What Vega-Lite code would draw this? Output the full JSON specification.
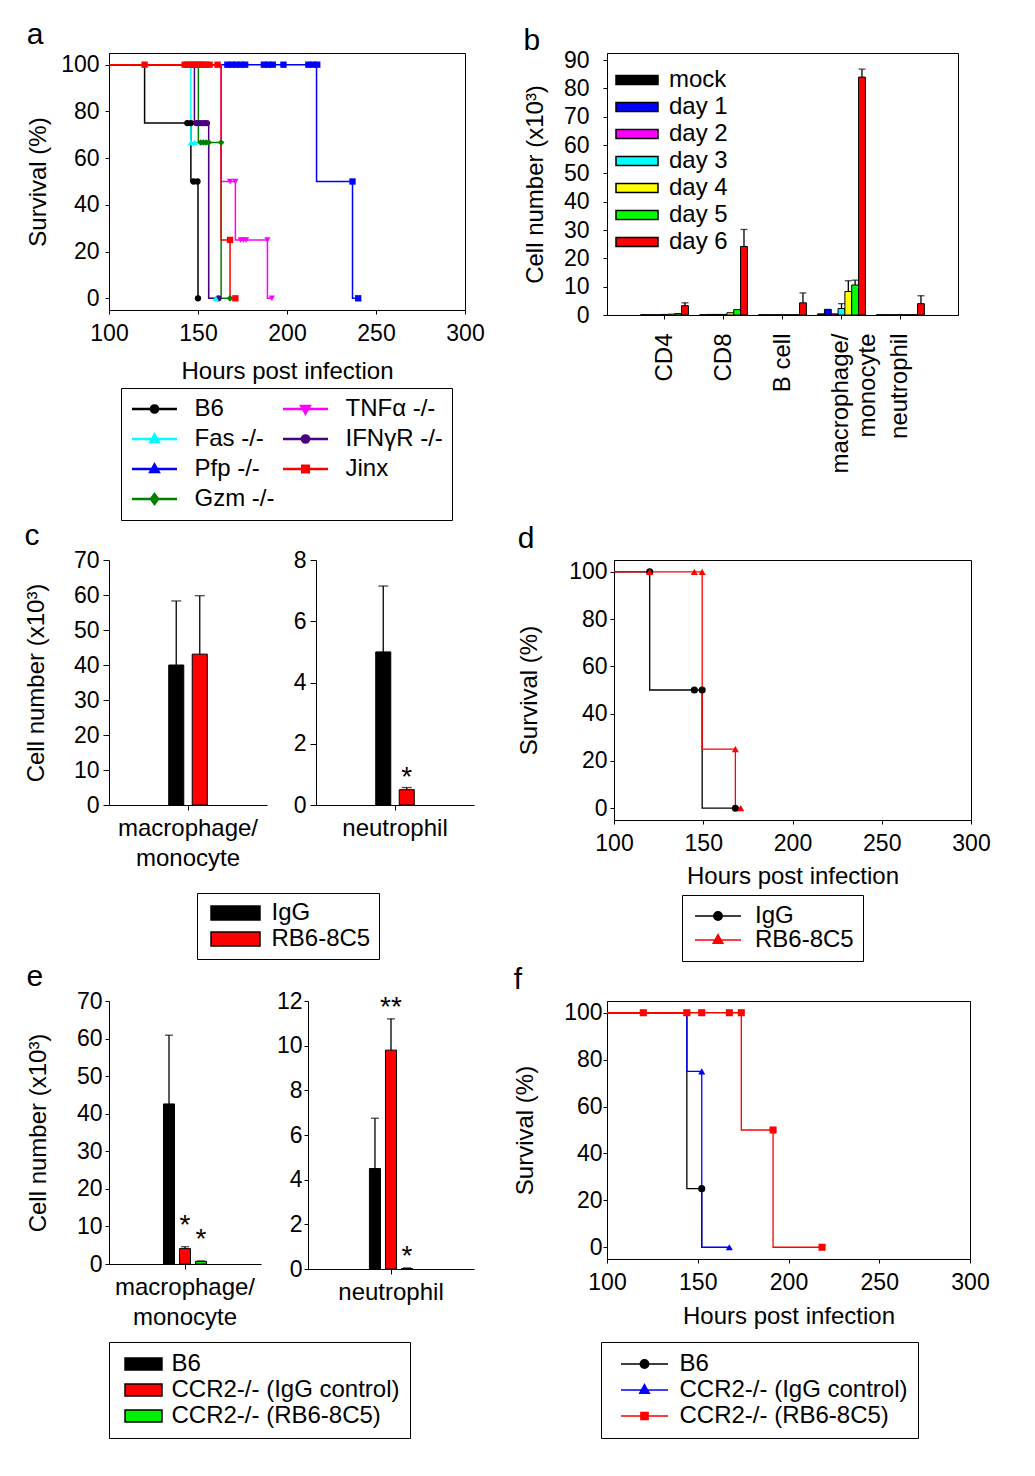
{
"$schema": "https://vega.github.io/schema/vega-lite/v6.json",
"padding": {"left": 24, "top": 19, "right": 5, "bottom": 5},
"background": "white",
"config": {
 "font": "Liberation Sans",
 "view": {"stroke": "black", "strokeWidth": 1},
 "axis": {"labelFont": "Liberation Sans", "titleFont": "Liberation Sans", "labelFontSize": 23, "titleFontSize": 24, "titleFontWeight": "normal", "labelColor": "black", "titleColor": "black", "domainColor": "black", "tickColor": "black", "grid": false, "labelOverlap": false, "labelFlush": false},
 "legend": {"labelFont": "Liberation Sans", "labelFontSize": 24, "labelColor": "black", "labelLimit": 400},
 "title": {"font": "Liberation Sans", "fontSize": 30, "fontWeight": "normal", "anchor": "start", "color": "black", "offset": 2}
},
"datasets": {
 "a_lines": [
  {"strain": "B6", "hours": 100, "surv": 100}, {"strain": "B6", "hours": 120, "surv": 75}, {"strain": "B6", "hours": 146, "surv": 50}, {"strain": "B6", "hours": 150, "surv": 0},
  {"strain": "Fas -/-", "hours": 100, "surv": 100}, {"strain": "Fas -/-", "hours": 146, "surv": 66.7}, {"strain": "Fas -/-", "hours": 156, "surv": 0}, {"strain": "Fas -/-", "hours": 160, "surv": 0},
  {"strain": "Pfp -/-", "hours": 100, "surv": 100}, {"strain": "Pfp -/-", "hours": 216.6, "surv": 50}, {"strain": "Pfp -/-", "hours": 236.8, "surv": 0}, {"strain": "Pfp -/-", "hours": 240, "surv": 0},
  {"strain": "Gzm -/-", "hours": 100, "surv": 100}, {"strain": "Gzm -/-", "hours": 150.2, "surv": 66.7}, {"strain": "Gzm -/-", "hours": 163, "surv": 0}, {"strain": "Gzm -/-", "hours": 168, "surv": 0},
  {"strain": "TNFα -/-", "hours": 100, "surv": 100}, {"strain": "TNFα -/-", "hours": 163, "surv": 50}, {"strain": "TNFα -/-", "hours": 171, "surv": 25}, {"strain": "TNFα -/-", "hours": 189, "surv": 0}, {"strain": "TNFα -/-", "hours": 191.5, "surv": 0},
  {"strain": "IFNγR -/-", "hours": 100, "surv": 100}, {"strain": "IFNγR -/-", "hours": 148, "surv": 75}, {"strain": "IFNγR -/-", "hours": 156, "surv": 0}, {"strain": "IFNγR -/-", "hours": 161.5, "surv": 0},
  {"strain": "Jinx", "hours": 100, "surv": 100}, {"strain": "Jinx", "hours": 163, "surv": 25}, {"strain": "Jinx", "hours": 168, "surv": 0}, {"strain": "Jinx", "hours": 171, "surv": 0}
 ],
 "a_pts": [
  {"strain": "B6", "hours": 144, "surv": 75}, {"strain": "B6", "hours": 146, "surv": 75}, {"strain": "B6", "hours": 147.5, "surv": 50}, {"strain": "B6", "hours": 149.7, "surv": 50}, {"strain": "B6", "hours": 150, "surv": 0},
  {"strain": "Fas -/-", "hours": 146, "surv": 66.7}, {"strain": "Fas -/-", "hours": 148, "surv": 66.7}, {"strain": "Fas -/-", "hours": 160, "surv": 0},
  {"strain": "Pfp -/-", "hours": 166.5, "surv": 100}, {"strain": "Pfp -/-", "hours": 169, "surv": 100}, {"strain": "Pfp -/-", "hours": 171.5, "surv": 100}, {"strain": "Pfp -/-", "hours": 174, "surv": 100}, {"strain": "Pfp -/-", "hours": 176.5, "surv": 100}, {"strain": "Pfp -/-", "hours": 187, "surv": 100}, {"strain": "Pfp -/-", "hours": 189.5, "surv": 100}, {"strain": "Pfp -/-", "hours": 192, "surv": 100}, {"strain": "Pfp -/-", "hours": 198, "surv": 100}, {"strain": "Pfp -/-", "hours": 212, "surv": 100}, {"strain": "Pfp -/-", "hours": 214.5, "surv": 100}, {"strain": "Pfp -/-", "hours": 217, "surv": 100}, {"strain": "Pfp -/-", "hours": 236.8, "surv": 50}, {"strain": "Pfp -/-", "hours": 240, "surv": 0},
  {"strain": "Gzm -/-", "hours": 151.5, "surv": 66.7}, {"strain": "Gzm -/-", "hours": 153, "surv": 66.7}, {"strain": "Gzm -/-", "hours": 154.5, "surv": 66.7}, {"strain": "Gzm -/-", "hours": 156, "surv": 66.7}, {"strain": "Gzm -/-", "hours": 163, "surv": 66.7}, {"strain": "Gzm -/-", "hours": 168, "surv": 0},
  {"strain": "TNFα -/-", "hours": 168, "surv": 50}, {"strain": "TNFα -/-", "hours": 171, "surv": 50}, {"strain": "TNFα -/-", "hours": 174, "surv": 25}, {"strain": "TNFα -/-", "hours": 175.5, "surv": 25}, {"strain": "TNFα -/-", "hours": 177, "surv": 25}, {"strain": "TNFα -/-", "hours": 189, "surv": 25}, {"strain": "TNFα -/-", "hours": 191.5, "surv": 0},
  {"strain": "IFNγR -/-", "hours": 149, "surv": 75}, {"strain": "IFNγR -/-", "hours": 150.5, "surv": 75}, {"strain": "IFNγR -/-", "hours": 152, "surv": 75}, {"strain": "IFNγR -/-", "hours": 153.5, "surv": 75}, {"strain": "IFNγR -/-", "hours": 155, "surv": 75}, {"strain": "IFNγR -/-", "hours": 161.5, "surv": 0},
  {"strain": "Jinx", "hours": 120, "surv": 100}, {"strain": "Jinx", "hours": 142.5, "surv": 100}, {"strain": "Jinx", "hours": 144, "surv": 100}, {"strain": "Jinx", "hours": 145.5, "surv": 100}, {"strain": "Jinx", "hours": 147, "surv": 100}, {"strain": "Jinx", "hours": 148.5, "surv": 100}, {"strain": "Jinx", "hours": 150, "surv": 100}, {"strain": "Jinx", "hours": 151.5, "surv": 100}, {"strain": "Jinx", "hours": 153, "surv": 100}, {"strain": "Jinx", "hours": 154.5, "surv": 100}, {"strain": "Jinx", "hours": 156.5, "surv": 100}, {"strain": "Jinx", "hours": 161, "surv": 100}, {"strain": "Jinx", "hours": 168, "surv": 25}, {"strain": "Jinx", "hours": 171, "surv": 0}
 ],
 "b": [
  {"cell": "CD4", "day": "mock", "value": 0.1}, {"cell": "CD4", "day": "day 1", "value": 0.1}, {"cell": "CD4", "day": "day 2", "value": 0.1}, {"cell": "CD4", "day": "day 3", "value": 0.2}, {"cell": "CD4", "day": "day 4", "value": 0.3}, {"cell": "CD4", "day": "day 5", "value": 0.5}, {"cell": "CD4", "day": "day 6", "value": 3.3, "upper": 4.3},
  {"cell": "CD8", "day": "mock", "value": 0.1}, {"cell": "CD8", "day": "day 1", "value": 0.2}, {"cell": "CD8", "day": "day 2", "value": 0.2}, {"cell": "CD8", "day": "day 3", "value": 0.2}, {"cell": "CD8", "day": "day 4", "value": 0.8}, {"cell": "CD8", "day": "day 5", "value": 1.9}, {"cell": "CD8", "day": "day 6", "value": 24.2, "upper": 30.2},
  {"cell": "B cell", "day": "mock", "value": 0.1}, {"cell": "B cell", "day": "day 1", "value": 0.1}, {"cell": "B cell", "day": "day 2", "value": 0.1}, {"cell": "B cell", "day": "day 3", "value": 0.1}, {"cell": "B cell", "day": "day 4", "value": 0.1}, {"cell": "B cell", "day": "day 5", "value": 0.1}, {"cell": "B cell", "day": "day 6", "value": 4.3, "upper": 7.8},
  {"cell": "macrophage/monocyte", "day": "mock", "value": 0.4}, {"cell": "macrophage/monocyte", "day": "day 1", "value": 2.0}, {"cell": "macrophage/monocyte", "day": "day 2", "value": 0.4}, {"cell": "macrophage/monocyte", "day": "day 3", "value": 2.3, "upper": 4.0}, {"cell": "macrophage/monocyte", "day": "day 4", "value": 8.3, "upper": 12.1}, {"cell": "macrophage/monocyte", "day": "day 5", "value": 10.6, "upper": 12.3}, {"cell": "macrophage/monocyte", "day": "day 6", "value": 84.0, "upper": 86.8},
  {"cell": "neutrophil", "day": "mock", "value": 0.1}, {"cell": "neutrophil", "day": "day 1", "value": 0.1}, {"cell": "neutrophil", "day": "day 2", "value": 0.1}, {"cell": "neutrophil", "day": "day 3", "value": 0.1}, {"cell": "neutrophil", "day": "day 4", "value": 0.1}, {"cell": "neutrophil", "day": "day 5", "value": 0.1}, {"cell": "neutrophil", "day": "day 6", "value": 4.0, "upper": 6.8}
 ],
 "c_mac": [
  {"cell": "macrophage/monocyte", "group": "IgG", "value": 40.0, "upper": 58.3},
  {"cell": "macrophage/monocyte", "group": "RB6-8C5", "value": 43.1, "upper": 59.8}
 ],
 "c_neu": [
  {"cell": "neutrophil", "group": "IgG", "value": 5.0, "upper": 7.15},
  {"cell": "neutrophil", "group": "RB6-8C5", "value": 0.5, "upper": 0.57, "star": "*"}
 ],
 "d_lines": [
  {"group": "IgG", "hours": 100, "surv": 100}, {"group": "IgG", "hours": 120, "surv": 50}, {"group": "IgG", "hours": 149.4, "surv": 0}, {"group": "IgG", "hours": 168, "surv": 0},
  {"group": "RB6-8C5", "hours": 100, "surv": 100}, {"group": "RB6-8C5", "hours": 149.4, "surv": 25}, {"group": "RB6-8C5", "hours": 168, "surv": 0}, {"group": "RB6-8C5", "hours": 171, "surv": 0}
 ],
 "d_pts": [
  {"group": "IgG", "hours": 120, "surv": 100}, {"group": "IgG", "hours": 145, "surv": 50}, {"group": "IgG", "hours": 149.4, "surv": 50}, {"group": "IgG", "hours": 168, "surv": 0},
  {"group": "RB6-8C5", "hours": 120, "surv": 100}, {"group": "RB6-8C5", "hours": 145, "surv": 100}, {"group": "RB6-8C5", "hours": 149.4, "surv": 100}, {"group": "RB6-8C5", "hours": 168, "surv": 25}, {"group": "RB6-8C5", "hours": 171, "surv": 0}
 ],
 "e_mac": [
  {"cell": "macrophage/monocyte", "group": "B6", "value": 42.6, "upper": 60.9},
  {"cell": "macrophage/monocyte", "group": "CCR2-/- (IgG control)", "value": 4.1, "upper": 4.6, "star": "*"},
  {"cell": "macrophage/monocyte", "group": "CCR2-/- (RB6-8C5)", "value": 0.7, "upper": 0.8, "star": "*"}
 ],
 "e_neu": [
  {"cell": "neutrophil", "group": "B6", "value": 4.5, "upper": 6.75},
  {"cell": "neutrophil", "group": "CCR2-/- (IgG control)", "value": 9.8, "upper": 11.2, "star": "**"},
  {"cell": "neutrophil", "group": "CCR2-/- (RB6-8C5)", "value": 0.02, "upper": 0.05, "star": "*"}
 ],
 "f_lines": [
  {"group": "B6", "hours": 100, "surv": 100}, {"group": "B6", "hours": 144, "surv": 25}, {"group": "B6", "hours": 152.2, "surv": 0},
  {"group": "CCR2-/- (IgG control)", "hours": 100, "surv": 100}, {"group": "CCR2-/- (IgG control)", "hours": 144, "surv": 75}, {"group": "CCR2-/- (IgG control)", "hours": 152.2, "surv": 0}, {"group": "CCR2-/- (IgG control)", "hours": 167.4, "surv": 0},
  {"group": "CCR2-/- (RB6-8C5)", "hours": 100, "surv": 100}, {"group": "CCR2-/- (RB6-8C5)", "hours": 174, "surv": 50}, {"group": "CCR2-/- (RB6-8C5)", "hours": 191.5, "surv": 0}, {"group": "CCR2-/- (RB6-8C5)", "hours": 218.5, "surv": 0}
 ],
 "f_pts": [
  {"group": "B6", "hours": 152.2, "surv": 25},
  {"group": "CCR2-/- (IgG control)", "hours": 120, "surv": 100}, {"group": "CCR2-/- (IgG control)", "hours": 144, "surv": 100}, {"group": "CCR2-/- (IgG control)", "hours": 152.2, "surv": 75}, {"group": "CCR2-/- (IgG control)", "hours": 167.4, "surv": 0},
  {"group": "CCR2-/- (RB6-8C5)", "hours": 120, "surv": 100}, {"group": "CCR2-/- (RB6-8C5)", "hours": 144, "surv": 100}, {"group": "CCR2-/- (RB6-8C5)", "hours": 152.2, "surv": 100}, {"group": "CCR2-/- (RB6-8C5)", "hours": 167.4, "surv": 100}, {"group": "CCR2-/- (RB6-8C5)", "hours": 174, "surv": 100}, {"group": "CCR2-/- (RB6-8C5)", "hours": 191.5, "surv": 50}, {"group": "CCR2-/- (RB6-8C5)", "hours": 218.5, "surv": 0}
 ]
},
"spacing": 0,
"columns": 1,
"resolve": {"scale": {"color": "independent", "shape": "independent", "xOffset": "independent"}, "legend": {"color": "independent", "shape": "independent"}},
"concat": [
 {
  "columns": 2,
  "spacing": 37,
  "resolve": {"scale": {"color": "independent", "shape": "independent", "xOffset": "independent"}, "legend": {"color": "independent", "shape": "independent"}},
  "concat": [
   {
    "width": 356, "height": 257,
    "title": {"text": "a", "offset": 3},
    "encoding": {
     "x": {"field": "hours", "type": "quantitative", "scale": {"domain": [100, 300], "nice": false, "zero": false}, "axis": {"values": [100, 150, 200, 250, 300], "title": "Hours post infection", "tickSize": 4, "labelPadding": 8, "titlePadding": 14}},
     "y": {"field": "surv", "type": "quantitative", "scale": {"domain": [-5, 105], "nice": false, "zero": false}, "axis": {"values": [0, 20, 40, 60, 80, 100], "title": "Survival (%)", "tickSize": 4, "labelPadding": 6, "titlePadding": 10}},
     "color": {"field": "strain", "type": "nominal", "scale": {"domain": ["B6", "Fas -/-", "Pfp -/-", "Gzm -/-", "TNFα -/-", "IFNγR -/-", "Jinx"], "range": ["#000000", "#00FFFF", "#0000FF", "#008000", "#FF00FF", "#4B0082", "#FF0000"]},
      "legend": {"orient": "none", "legendX": 12, "legendY": 335, "title": null, "columns": 2, "strokeColor": "black", "padding": 9, "symbolSize": 144, "symbolOffset": 12.5, "symbolStrokeWidth": 2, "rowPadding": 6, "columnPadding": 3, "labelOffset": 28,
       "encode": {"symbols": {"update": {
        "shape": {"signal": "(datum.value==='B6'||datum.value==='IFNγR -/-') ? 'M-3.75,0H3.75M-0.6,0A0.6,0.6 0 1,1 0.6,0A0.6,0.6 0 1,1 -0.6,0Z' : (datum.value==='Fas -/-'||datum.value==='Pfp -/-') ? 'M-3.75,0H3.75M0,-0.75L0.7,0.5L-0.7,0.5Z' : datum.value==='TNFα -/-' ? 'M-3.75,0H3.75M0,0.75L0.7,-0.5L-0.7,-0.5Z' : datum.value==='Gzm -/-' ? 'M-3.75,0H3.75M0,-0.8L0.6,0L0,0.8L-0.6,0Z' : 'M-3.75,0H3.75M-0.55,-0.55H0.55V0.55H-0.55Z'"},
        "fill": {"signal": "datum.value==='B6'?'#000000':datum.value==='TNFα -/-'?'#FF00FF':datum.value==='Fas -/-'?'#00FFFF':datum.value==='IFNγR -/-'?'#4B0082':datum.value==='Pfp -/-'?'#0000FF':datum.value==='Jinx'?'#FF0000':'#008000'"},
        "stroke": {"signal": "datum.value==='B6'?'#000000':datum.value==='TNFα -/-'?'#FF00FF':datum.value==='Fas -/-'?'#00FFFF':datum.value==='IFNγR -/-'?'#4B0082':datum.value==='Pfp -/-'?'#0000FF':datum.value==='Jinx'?'#FF0000':'#008000'"},
        "strokeWidth": {"value": 2.5}, "opacity": {"value": 1}}}}}}
    },
    "layer": [
     {"data": {"name": "a_lines"}, "mark": {"type": "line", "interpolate": "step-after", "strokeWidth": 1.5}},
     {"data": {"name": "a_pts"}, "transform": [{"filter": "datum.strain==='B6' || datum.strain==='IFNγR -/-'"}], "mark": {"type": "point", "shape": "circle", "filled": true, "size": 40, "opacity": 1}},
     {"data": {"name": "a_pts"}, "transform": [{"filter": "datum.strain==='Fas -/-'"}], "mark": {"type": "point", "shape": "triangle-up", "filled": true, "size": 40, "opacity": 1}},
     {"data": {"name": "a_pts"}, "transform": [{"filter": "datum.strain==='Gzm -/-'"}], "mark": {"type": "point", "shape": "diamond", "filled": true, "size": 45, "opacity": 1}},
     {"data": {"name": "a_pts"}, "transform": [{"filter": "datum.strain==='TNFα -/-'"}], "mark": {"type": "point", "shape": "triangle-down", "filled": true, "size": 40, "opacity": 1}},
     {"data": {"name": "a_pts"}, "transform": [{"filter": "datum.strain==='Pfp -/-' || datum.strain==='Jinx'"}], "mark": {"type": "point", "shape": "square", "filled": true, "size": 40, "opacity": 1}}
    ]
   },
   {
    "width": 351, "height": 262,
    "title": {"text": "b", "offset": -7},
    "data": {"name": "b"},
    "encoding": {
     "x": {"field": "cell", "type": "nominal", "sort": ["CD4", "CD8", "B cell", "macrophage/monocyte", "neutrophil"], "scale": {"paddingInner": 0.19, "paddingOuter": 0.57}, "axis": {"title": null, "labelAngle": 270, "labelAlign": "right", "labelBaseline": "middle", "tickSize": 4, "labelPadding": 14, "labelFontSize": 24, "labelLineHeight": 27, "labelExpr": "datum.value === 'macrophage/monocyte' ? ['macrophage/', 'monocyte'] : datum.value"}},
     "xOffset": {"field": "day", "type": "nominal", "sort": ["mock", "day 1", "day 2", "day 3", "day 4", "day 5", "day 6"], "scale": {"paddingInner": 0, "paddingOuter": 0}},
     "y": {"field": "value", "type": "quantitative", "scale": {"domain": [0, 92.5], "nice": false}, "axis": {"values": [0, 10, 20, 30, 40, 50, 60, 70, 80, 90], "title": "Cell number (x10³)", "tickSize": 4, "labelPadding": 14, "titlePadding": 16}}
    },
    "layer": [
     {"mark": {"type": "bar", "stroke": "black", "strokeWidth": 1},
      "encoding": {"color": {"field": "day", "type": "nominal", "scale": {"domain": ["mock", "day 1", "day 2", "day 3", "day 4", "day 5", "day 6"], "range": ["#000000", "#0000FF", "#FF00FF", "#00FFFF", "#FFFF00", "#00FF00", "#FF0000"]},
       "legend": {"orient": "none", "legendX": 3, "legendY": 15, "title": null, "symbolType": "M-3.5,-0.75H3.5V0.75H-3.5Z", "symbolSize": 144, "symbolOffset": 15, "symbolStrokeColor": "black", "symbolStrokeWidth": 1.5, "rowPadding": 3, "labelOffset": 20, "padding": 0}}}},
     {"transform": [{"filter": "isValid(datum.upper)"}], "mark": {"type": "rule", "color": "black", "strokeWidth": 1.3}, "encoding": {"y2": {"field": "upper"}}},
     {"transform": [{"filter": "isValid(datum.upper)"}], "mark": {"type": "tick", "color": "black", "thickness": 1.3, "size": 7}, "encoding": {"y": {"field": "upper", "type": "quantitative"}}}
    ]
   }
  ]
 },
 {
  "columns": 2,
  "spacing": 43,
  "resolve": {"scale": {"color": "independent", "shape": "independent", "xOffset": "independent"}, "legend": {"color": "independent", "shape": "independent"}},
  "concat": [
   {
    "hconcat": [
     {
      "width": 158, "height": 245,
      "title": {"text": "c", "offset": -2},
      "view": {"stroke": null},
      "data": {"name": "c_mac"},
      "encoding": {
       "x": {"field": "cell", "type": "nominal", "scale": {"paddingInner": 0, "paddingOuter": 1}, "axis": {"title": null, "labelAngle": 0, "labelAlign": "center", "labelBaseline": "top", "tickSize": 5, "labelPadding": 6, "labelFontSize": 24, "labelLineHeight": 30, "labelExpr": "datum.value === 'macrophage/monocyte' ? ['macrophage/', 'monocyte'] : datum.value"}},
       "xOffset": {"field": "group", "type": "nominal", "sort": ["IgG", "RB6-8C5"], "scale": {"paddingInner": 0.36, "paddingOuter": 0.3}},
       "y": {"field": "value", "type": "quantitative", "scale": {"domain": [0, 70], "nice": false}, "axis": {"values": [0, 10, 20, 30, 40, 50, 60, 70], "title": "Cell number (x10³)", "tickSize": 6, "labelPadding": 4, "titlePadding": 25}}
      },
      "layer": [
       {"mark": {"type": "bar", "stroke": "black", "strokeWidth": 1},
        "encoding": {"color": {"field": "group", "type": "nominal", "scale": {"domain": ["IgG", "RB6-8C5"], "range": ["#000000", "#FF0000"]},
         "legend": {"orient": "none", "legendX": 88, "legendY": 333, "title": null, "symbolType": "M-4.08,-1.15H4.08V1.15H-4.08Z", "symbolSize": 144, "symbolOffset": 18.5, "symbolStrokeColor": "black", "symbolStrokeWidth": 1.5, "strokeColor": "black", "padding": 8, "rowPadding": 2, "labelOffset": 24}}}},
       {"mark": {"type": "rule", "color": "black", "strokeWidth": 1.3}, "encoding": {"y2": {"field": "upper"}}},
       {"mark": {"type": "tick", "color": "black", "thickness": 1.3, "size": 10}, "encoding": {"y": {"field": "upper", "type": "quantitative"}}}
      ]
     },
     {
      "width": 158, "height": 245,
      "view": {"stroke": null},
      "data": {"name": "c_neu"},
      "encoding": {
       "x": {"field": "cell", "type": "nominal", "scale": {"paddingInner": 0, "paddingOuter": 1}, "axis": {"title": null, "labelAngle": 0, "labelAlign": "center", "labelBaseline": "top", "tickSize": 5, "labelPadding": 6, "labelFontSize": 24}},
       "xOffset": {"field": "group", "type": "nominal", "sort": ["IgG", "RB6-8C5"], "scale": {"paddingInner": 0.36, "paddingOuter": 0.3}},
       "y": {"field": "value", "type": "quantitative", "scale": {"domain": [0, 8], "nice": false}, "axis": {"values": [0, 2, 4, 6, 8], "title": null, "tickSize": 6, "labelPadding": 4}}
      },
      "layer": [
       {"mark": {"type": "bar", "stroke": "black", "strokeWidth": 1},
        "encoding": {"color": {"field": "group", "type": "nominal", "scale": {"domain": ["IgG", "RB6-8C5"], "range": ["#000000", "#FF0000"]},
         "legend": {"orient": "none", "legendX": 88, "legendY": 333, "title": null, "symbolType": "M-4.08,-1.15H4.08V1.15H-4.08Z", "symbolSize": 144, "symbolOffset": 18.5, "symbolStrokeColor": "black", "symbolStrokeWidth": 1.5, "strokeColor": "black", "padding": 8, "rowPadding": 2, "labelOffset": 24}}}},
       {"mark": {"type": "rule", "color": "black", "strokeWidth": 1.3}, "encoding": {"y2": {"field": "upper"}}},
       {"mark": {"type": "tick", "color": "black", "thickness": 1.3, "size": 10}, "encoding": {"y": {"field": "upper", "type": "quantitative"}}},
       {"transform": [{"filter": "isValid(datum.star)"}], "mark": {"type": "text", "fontSize": 28, "baseline": "alphabetic", "dy": -2, "color": "black"}, "encoding": {"y": {"field": "upper", "type": "quantitative"}, "text": {"field": "star"}}}
      ]
     }
    ],
    "bounds": "flush",
    "spacing": 49,
    "resolve": {"scale": {"color": "shared", "xOffset": "independent"}, "legend": {"color": "shared"}}
   },
   {
    "width": 357, "height": 260,
    "title": {"text": "d", "offset": 6},
    "encoding": {
     "x": {"field": "hours", "type": "quantitative", "scale": {"domain": [100, 300], "nice": false, "zero": false}, "axis": {"values": [100, 150, 200, 250, 300], "title": "Hours post infection", "tickSize": 4, "labelPadding": 8, "titlePadding": 9}},
     "y": {"field": "surv", "type": "quantitative", "scale": {"domain": [-5, 105], "nice": false, "zero": false}, "axis": {"values": [0, 20, 40, 60, 80, 100], "title": "Survival (%)", "tickSize": 4, "labelPadding": 3, "titlePadding": 27}},
     "color": {"field": "group", "type": "nominal", "scale": {"domain": ["IgG", "RB6-8C5"], "range": ["#000000", "#FF0000"]},
      "legend": {"orient": "none", "legendX": 68, "legendY": 335, "title": null, "strokeColor": "black", "padding": 9, "symbolSize": 144, "symbolOffset": 15, "symbolStrokeWidth": 2, "rowPadding": 0, "labelOffset": 25,
       "encode": {"symbols": {"update": {
        "shape": {"signal": "datum.value==='IgG' ? 'M-3.83,0H3.83M-0.7,0A0.7,0.7 0 1,1 0.7,0A0.7,0.7 0 1,1 -0.7,0Z' : 'M-3.83,0H3.83M0,-0.9L0.8,0.55L-0.8,0.55Z'"},
        "fill": {"signal": "datum.value==='IgG'?'#000000':'#FF0000'"},
        "stroke": {"signal": "datum.value==='IgG'?'#000000':'#FF0000'"},
        "strokeWidth": {"value": 1.5}, "opacity": {"value": 1}}}}}}
    },
    "layer": [
     {"data": {"name": "d_lines"}, "mark": {"type": "line", "interpolate": "step-after", "strokeWidth": 1.3}},
     {"data": {"name": "d_pts"}, "transform": [{"filter": "datum.group==='IgG'"}], "mark": {"type": "point", "shape": "circle", "filled": true, "size": 50, "opacity": 1}},
     {"data": {"name": "d_pts"}, "transform": [{"filter": "datum.group==='RB6-8C5'"}], "mark": {"type": "point", "shape": "triangle-up", "filled": true, "size": 50, "opacity": 1}}
    ]
   }
  ]
 },
 {
  "columns": 2,
  "spacing": 39,
  "resolve": {"scale": {"color": "independent", "shape": "independent", "xOffset": "independent"}, "legend": {"color": "independent", "shape": "independent"}},
  "concat": [
   {
    "hconcat": [
     {
      "width": 152, "height": 263,
      "title": {"text": "e", "offset": -2},
      "view": {"stroke": null},
      "data": {"name": "e_mac"},
      "encoding": {
       "x": {"field": "cell", "type": "nominal", "scale": {"paddingInner": 0, "paddingOuter": 1}, "axis": {"title": null, "labelAngle": 0, "labelAlign": "center", "labelBaseline": "top", "tickSize": 5, "labelPadding": 6, "labelFontSize": 24, "labelLineHeight": 30, "labelExpr": "datum.value === 'macrophage/monocyte' ? ['macrophage/', 'monocyte'] : datum.value"}},
       "xOffset": {"field": "group", "type": "nominal", "sort": ["B6", "CCR2-/- (IgG control)", "CCR2-/- (RB6-8C5)"], "scale": {"paddingInner": 0.31, "paddingOuter": 0.24}},
       "y": {"field": "value", "type": "quantitative", "scale": {"domain": [0, 70], "nice": false}, "axis": {"values": [0, 10, 20, 30, 40, 50, 60, 70], "title": "Cell number (x10³)", "tickSize": 4, "labelPadding": 3, "titlePadding": 26}}
      },
      "layer": [
       {"mark": {"type": "bar", "stroke": "black", "strokeWidth": 1},
        "encoding": {"color": {"field": "group", "type": "nominal", "scale": {"domain": ["B6", "CCR2-/- (IgG control)", "CCR2-/- (RB6-8C5)"], "range": ["#000000", "#FF0000", "#00EE00"]},
         "legend": {"orient": "none", "legendX": 0, "legendY": 341, "title": null, "symbolType": "M-3.08,-1H3.08V1H-3.08Z", "symbolSize": 144, "symbolOffset": 12.5, "symbolStrokeColor": "black", "symbolStrokeWidth": 1.5, "strokeColor": "black", "padding": 10, "rowPadding": 2, "labelOffset": 16}}}},
       {"mark": {"type": "rule", "color": "black", "strokeWidth": 1.3}, "encoding": {"y2": {"field": "upper"}}},
       {"mark": {"type": "tick", "color": "black", "thickness": 1.3, "size": 8}, "encoding": {"y": {"field": "upper", "type": "quantitative"}}},
       {"transform": [{"filter": "isValid(datum.star)"}], "mark": {"type": "text", "fontSize": 28, "baseline": "alphabetic", "dy": -13, "color": "black"}, "encoding": {"y": {"field": "upper", "type": "quantitative"}, "text": {"field": "star"}}}
      ]
     },
     {
      "width": 166, "height": 268,
      "view": {"stroke": null},
      "data": {"name": "e_neu"},
      "encoding": {
       "x": {"field": "cell", "type": "nominal", "scale": {"paddingInner": 0, "paddingOuter": 1}, "axis": {"title": null, "labelAngle": 0, "labelAlign": "center", "labelBaseline": "top", "tickSize": 5, "labelPadding": 6, "labelFontSize": 24}},
       "xOffset": {"field": "group", "type": "nominal", "sort": ["B6", "CCR2-/- (IgG control)", "CCR2-/- (RB6-8C5)"], "scale": {"paddingInner": 0.31, "paddingOuter": 0.38}},
       "y": {"field": "value", "type": "quantitative", "scale": {"domain": [0, 12], "nice": false}, "axis": {"values": [0, 2, 4, 6, 8, 10, 12], "title": null, "tickSize": 4, "labelPadding": 2}}
      },
      "layer": [
       {"mark": {"type": "bar", "stroke": "black", "strokeWidth": 1},
        "encoding": {"color": {"field": "group", "type": "nominal", "scale": {"domain": ["B6", "CCR2-/- (IgG control)", "CCR2-/- (RB6-8C5)"], "range": ["#000000", "#FF0000", "#00EE00"]},
         "legend": {"orient": "none", "legendX": 0, "legendY": 341, "title": null, "symbolType": "M-3.08,-1H3.08V1H-3.08Z", "symbolSize": 144, "symbolOffset": 12.5, "symbolStrokeColor": "black", "symbolStrokeWidth": 1.5, "strokeColor": "black", "padding": 10, "rowPadding": 2, "labelOffset": 16}}}},
       {"mark": {"type": "rule", "color": "black", "strokeWidth": 1.3}, "encoding": {"y2": {"field": "upper"}}},
       {"mark": {"type": "tick", "color": "black", "thickness": 1.3, "size": 8}, "encoding": {"y": {"field": "upper", "type": "quantitative"}}},
       {"transform": [{"filter": "isValid(datum.star)"}], "mark": {"type": "text", "fontSize": 28, "baseline": "alphabetic", "dy": -3, "color": "black"}, "encoding": {"y": {"field": "upper", "type": "quantitative"}, "text": {"field": "star"}}}
      ]
     }
    ],
    "bounds": "flush",
    "spacing": 47,
    "resolve": {"scale": {"color": "shared", "xOffset": "independent"}, "legend": {"color": "shared"}}
   },
   {
    "width": 363, "height": 258,
    "title": {"text": "f", "offset": 6},
    "encoding": {
     "x": {"field": "hours", "type": "quantitative", "scale": {"domain": [100, 300], "nice": false, "zero": false}, "axis": {"values": [100, 150, 200, 250, 300], "title": "Hours post infection", "tickSize": 4, "labelPadding": 8, "titlePadding": 10}},
     "y": {"field": "surv", "type": "quantitative", "scale": {"domain": [-5, 105], "nice": false, "zero": false}, "axis": {"values": [0, 20, 40, 60, 80, 100], "title": "Survival (%)", "tickSize": 4, "labelPadding": 1, "titlePadding": 26}},
     "color": {"field": "group", "type": "nominal", "scale": {"domain": ["B6", "CCR2-/- (IgG control)", "CCR2-/- (RB6-8C5)"], "range": ["#000000", "#0000FF", "#FF0000"]},
      "legend": {"orient": "none", "legendX": -6, "legendY": 341, "title": null, "strokeColor": "black", "padding": 10, "symbolSize": 144, "symbolOffset": 21.5, "symbolStrokeWidth": 2, "rowPadding": 2, "labelOffset": 23,
       "encode": {"symbols": {"update": {
        "shape": {"signal": "datum.value==='B6' ? 'M-3.92,0H3.92M-0.7,0A0.7,0.7 0 1,1 0.7,0A0.7,0.7 0 1,1 -0.7,0Z' : datum.value==='CCR2-/- (IgG control)' ? 'M-3.92,0H3.92M0,-0.9L0.8,0.55L-0.8,0.55Z' : 'M-3.92,0H3.92M-0.6,-0.6H0.6V0.6H-0.6Z'"},
        "fill": {"signal": "datum.value==='B6'?'#000000':datum.value==='CCR2-/- (IgG control)'?'#0000FF':'#FF0000'"},
        "stroke": {"signal": "datum.value==='B6'?'#000000':datum.value==='CCR2-/- (IgG control)'?'#0000FF':'#FF0000'"},
        "strokeWidth": {"value": 1.5}, "opacity": {"value": 1}}}}}}
    },
    "layer": [
     {"data": {"name": "f_lines"}, "mark": {"type": "line", "interpolate": "step-after", "strokeWidth": 1.3}},
     {"data": {"name": "f_pts"}, "transform": [{"filter": "datum.group==='B6'"}], "mark": {"type": "point", "shape": "circle", "filled": true, "size": 50, "opacity": 1}},
     {"data": {"name": "f_pts"}, "transform": [{"filter": "datum.group==='CCR2-/- (IgG control)'"}], "mark": {"type": "point", "shape": "triangle-up", "filled": true, "size": 50, "opacity": 1}},
     {"data": {"name": "f_pts"}, "transform": [{"filter": "datum.group==='CCR2-/- (RB6-8C5)'"}], "mark": {"type": "point", "shape": "square", "filled": true, "size": 50, "opacity": 1}}
    ]
   }
  ]
 }
]
}
